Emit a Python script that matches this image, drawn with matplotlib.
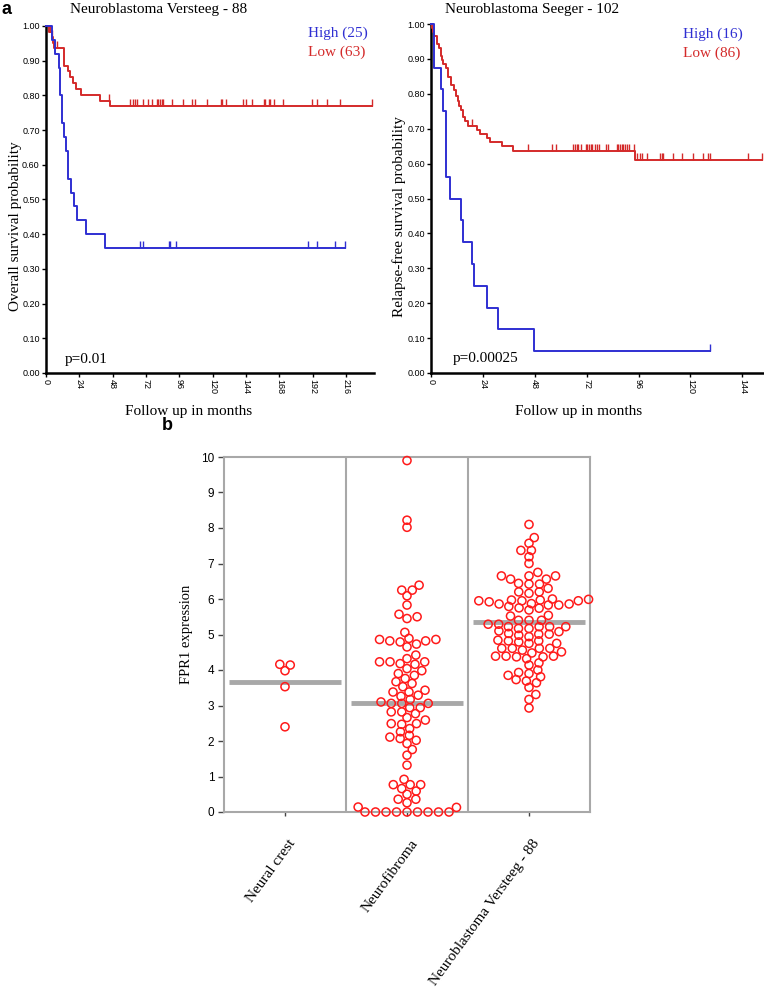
import numpy as np
import matplotlib
matplotlib.use('Agg')
import matplotlib.pyplot as plt
from matplotlib.transforms import ScaledTranslation

# Kaplan-Meier Daten (Monate, Ueberlebensrate nach Ereignis, zensierte Zeiten)
vers_high_t = [4.5, 6.5, 9.4, 10.3, 11.7, 13.2, 14.6, 16.0, 18.2, 20.2, 22.6, 28.8, 42.7]
vers_high_s = [0.96, 0.92, 0.88, 0.80, 0.72, 0.68, 0.64, 0.56, 0.52, 0.48, 0.44, 0.40, 0.36]
vers_high_c = [67.7, 70.0, 88.3, 89.3, 93.4, 188.8, 194.9, 208.0, 215.3]

vers_low_t = [2.4, 4.1, 5.2, 6.0, 13.0, 15.6, 17.3, 19.2, 21.6, 25.2, 38.9, 46.0]
vers_low_s = [0.984, 0.968, 0.952, 0.937, 0.886, 0.870, 0.854, 0.837, 0.818, 0.801, 0.785, 0.769]
vers_low_c = [2.9, 4.5, 8.2, 45.5, 60.5, 62.9, 64.1, 65.3, 69.6, 73.7, 76.1, 79.7, 80.9, 82.1,
              83.3, 84.5, 90.5, 98.4, 104.9, 107.3, 116.1, 126.0, 126.9, 129.6, 142.0, 143.8,
              148.5, 156.5, 157.7, 160.1, 161.3, 163.7, 170.8, 191.3, 194.9, 202.1, 211.7, 234.5]

seeg_high_t = [1.5, 4.5, 5.7, 6.9, 8.8, 13.7, 14.8, 18.8, 19.7, 25.7, 30.8, 47.8]
seeg_high_s = [0.875, 0.8125, 0.75, 0.5625, 0.5, 0.4375, 0.375, 0.3125, 0.25, 0.1875, 0.125, 0.0625]
seeg_high_c = [129.0]

seeg_low_t = [0.3, 1.1, 1.5, 2.6, 2.9, 3.9, 4.4, 4.9, 5.7, 6.9, 7.7, 8.0, 9.1, 10.6, 11.6, 12.3,
              13.1, 13.9, 14.6, 15.7, 17.3, 21.1, 22.7, 25.7, 27.3, 32.7, 38.1, 94.3]
seeg_low_s = [0.988, 0.977, 0.966, 0.955, 0.943, 0.932, 0.909, 0.898, 0.886, 0.874, 0.866, 0.848,
              0.826, 0.812, 0.793, 0.778, 0.766, 0.754, 0.734, 0.721, 0.709, 0.697, 0.685, 0.673,
              0.661, 0.649, 0.637, 0.611]
seeg_low_c = [18.8, 45.0, 55.8, 57.6, 65.8, 66.6, 67.3, 68.1, 69.6, 71.5, 72.3, 73.0, 73.8, 74.6,
              75.8, 76.9, 77.8, 80.9, 82.0, 85.8, 86.6, 87.4, 88.2, 88.9, 89.7, 90.5, 91.7, 93.9,
              95.1, 96.6, 97.7, 99.7, 105.9, 106.7, 107.4, 112.0, 115.9, 121.3, 125.9, 128.2,
              129.0, 146.7, 152.9]

# FPR1 Expression (Panel b)
groups = ['Neural crest', 'Neurofibroma', 'Neuroblastoma Versteeg - 88']
neural_crest = [4.14, 4.16, 3.98, 3.53, 2.40]
neurofibroma = [9.90, 8.22, 8.02, 6.25, 6.39, 6.25, 6.09, 5.83, 5.50, 5.57, 5.45, 5.06,
                4.86, 4.82, 4.89, 4.79, 4.65, 4.73, 4.86, 4.82, 4.23, 4.42, 4.23, 4.32, 4.18,
                4.16, 4.23, 3.98, 3.85, 4.04, 3.90, 3.76, 3.62, 3.67, 3.53, 3.38, 3.38, 3.43,
                3.29, 3.26, 3.17, 3.06, 3.06, 3.06, 3.10, 2.94, 2.94, 2.82, 2.82, 2.77, 2.66,
                2.59, 2.47, 2.49, 2.49, 2.35, 2.26, 2.11, 2.07, 2.16, 2.02, 1.93, 1.76, 1.60,
                1.32, 0.92, 0.77, 0.77, 0.77, 0.66, 0.59, 0.50, 0.36, 0.36, 0.26, 0.14, 0.13,
                0, 0, 0, 0, 0, 0, 0, 0, 0]
neuroblastoma = [8.10, 7.73, 7.57, 7.37, 7.37, 7.19, 7.00, 6.75, 6.65, 6.65, 6.65, 6.56, 6.56,
                 6.44, 6.42, 6.42, 6.30, 6.20, 6.20, 6.16, 5.97, 5.92, 5.87, 5.97, 5.86, 5.95,
                 6.00, 5.95, 5.95, 5.99, 5.86, 5.75, 5.83, 5.74, 5.69, 5.79, 5.83, 5.52, 5.54,
                 5.40, 5.40, 5.40, 5.29, 5.17, 5.29, 5.17, 5.22, 5.22, 5.22, 5.22, 5.08, 5.10,
                 5.03, 5.01, 5.01, 4.98, 4.94, 4.82, 4.82, 4.79, 4.75, 4.75, 4.84, 4.61, 4.61,
                 4.51, 4.56, 4.39, 4.39, 4.39, 4.61, 4.61, 4.37, 4.37, 4.48, 4.32, 4.20, 4.14,
                 4.00, 3.93, 3.90, 3.85, 3.81, 3.73, 3.69, 3.64, 3.51, 3.31, 3.17, 2.93]
group_means = [3.66, 3.07, 5.36]

BLUE = '#2f2fd2'
RED = '#d42a2a'
SERIF = ['Liberation Serif', 'DejaVu Serif']
SANS = ['Liberation Sans', 'DejaVu Sans']
NARROW = ['Liberation Sans Narrow', 'Liberation Sans', 'DejaVu Sans']

W, H = 764, 992
fig = plt.figure(figsize=(W / 100, H / 100), dpi=100)


def px_axes(l, t, r, b):
    return fig.add_axes([l / W, 1 - b / H, (r - l) / W, (b - t) / H])


def km_curve(ax, t, s, cens, color):
    t = np.asarray(t)
    s = np.asarray(s)
    cens = np.asarray(cens)
    end = cens.max()
    tt = np.r_[0, t, end]
    ss = np.r_[1.0, s, s[-1]]
    ax.step(tt, ss, where='post', color=color, lw=1.4, clip_on=False, zorder=3)
    sc = np.r_[1.0, s][np.searchsorted(t, cens, side='right')]
    ax.vlines(cens, sc, sc + 0.02, color=color, lw=1.0, clip_on=False, zorder=3)


def km_axes(ax, xmax, xticks, ylabel, ylab_x, ylab_y):
    ax.set_xlim(0, xmax)
    ax.set_ylim(0, 1)
    for sp in ['top', 'right']:
        ax.spines[sp].set_visible(False)
    for sp in ['left', 'bottom']:
        ax.spines[sp].set_linewidth(1.8)
    yt = np.round(np.arange(0, 1.01, 0.1), 2)
    ax.set_yticks(yt)
    ax.set_yticklabels([f'{v:.2f}' for v in yt], fontsize=6.5, family=NARROW)
    ax.set_xticks(xticks)
    ax.set_xticklabels([str(v) for v in xticks], rotation=270, fontsize=6.5,
                       family=SANS)
    ax.tick_params(axis='both', length=3, width=1, pad=1.5)
    ax.set_ylabel(ylabel, family=SERIF, fontsize=11)
    ax.yaxis.set_label_coords(ylab_x, ylab_y)


# Panel a links
ax1 = px_axes(46, 26, 374, 373)
km_curve(ax1, vers_low_t, vers_low_s, vers_low_c, RED)
km_curve(ax1, vers_high_t, vers_high_s, vers_high_c, BLUE)
km_axes(ax1, 236, list(range(0, 217, 24)), 'Overall survival probability', -0.074, 0.424)

# Panel a rechts
ax2 = px_axes(431, 24, 764, 373)
km_curve(ax2, seeg_low_t, seeg_low_s, seeg_low_c, RED)
km_curve(ax2, seeg_high_t, seeg_high_s, seeg_high_c, BLUE)
km_axes(ax2, 154, list(range(0, 145, 24)), 'Relapse-free survival probability', -0.074, 0.449)

fig.text(2 / W, 1 - 10 / H, 'a', family=SANS, fontsize=13, fontweight='bold', va='center')
fig.text(159 / W, 1 - 9 / H, 'Neuroblastoma Versteeg - 88', family=SERIF, fontsize=11,
         ha='center', va='center')
fig.text(532 / W, 1 - 9 / H, 'Neuroblastoma Seeger - 102', family=SERIF, fontsize=11,
         ha='center', va='center')
fig.text(308 / W, 1 - 33 / H, 'High (25)', family=SERIF, fontsize=11, color=BLUE, va='center')
fig.text(308 / W, 1 - 52 / H, 'Low (63)', family=SERIF, fontsize=11, color=RED, va='center')
fig.text(683 / W, 1 - 34 / H, 'High (16)', family=SERIF, fontsize=11, color=BLUE, va='center')
fig.text(683 / W, 1 - 53 / H, 'Low (86)', family=SERIF, fontsize=11, color=RED, va='center')
fig.text(65 / W, 1 - 360 / H, 'p=0.01', family=SERIF, fontsize=11, va='center')
fig.text(453 / W, 1 - 359 / H, 'p=0.00025', family=SERIF, fontsize=11, va='center')
fig.text(189 / W, 1 - 411 / H, 'Follow up in months', family=SERIF, fontsize=11,
         ha='center', va='center')
fig.text(579 / W, 1 - 411 / H, 'Follow up in months', family=SERIF, fontsize=11,
         ha='center', va='center')

# Panel b
ax3 = px_axes(224, 457, 590, 812)
ax3.set_xlim(-0.5, 2.5)
ax3.set_ylim(0, 10)
GRAY = '#a8a8a8'
for sp in ax3.spines.values():
    sp.set_color(GRAY)
    sp.set_linewidth(1.5)
for xd in [0.5, 1.5]:
    ax3.axvline(xd, color=GRAY, lw=1.5, zorder=1)

ax_w_px = 366.0
ax_h_px = 355.0
px_x = ax_w_px / 3.0
px_y = ax_h_px / 10.0


def swarm_offsets(vals, d, k):
    # Bienenschwarm, vertikal gestreckt damit Kreise sich etwas ueberlappen duerfen
    ys = np.asarray(vals) * px_y * k
    xs = np.zeros(len(ys))
    placed = []
    for i in np.argsort(ys):
        y = ys[i]
        cands = [0.0]
        for (qx, qy) in placed:
            dy = abs(qy - y)
            if dy < d:
                dx = np.sqrt(d * d - dy * dy)
                cands += [qx + dx, qx - dx]
        cands.sort(key=abs)
        for c in cands:
            if all((c - qx) ** 2 + (y - qy) ** 2 >= d * d - 1e-6 for qx, qy in placed):
                xs[i] = c
                placed.append((c, y))
                break
    return xs / px_x


for i, vals in enumerate([neural_crest, neurofibroma, neuroblastoma]):
    ax3.hlines(group_means[i], i - 0.46, i + 0.46, color=GRAY, lw=3.5, zorder=2)
    off = swarm_offsets(vals, 10.5, 1.6)
    ax3.scatter(i + off, vals, s=34, facecolors='none', edgecolors='#ff1a1a',
                linewidths=1.1, zorder=3, clip_on=False)

ax3.set_yticks(range(0, 11))
ax3.set_yticklabels([str(v) for v in range(0, 11)], family=SANS, fontsize=8.5)
ax3.set_xticks([0, 1, 2])
ax3.set_xticklabels(groups, family=SERIF, fontsize=11, rotation=54, ha='right',
                    rotation_mode='anchor')
ax3.tick_params(axis='y', length=4, width=1, color='#444444', pad=3)
ax3.tick_params(axis='x', length=3, width=1, color='#444444', pad=15)
for lab in ax3.get_xticklabels():
    lab.set_transform(lab.get_transform() + ScaledTranslation(0.03, 0, fig.dpi_scale_trans))
ax3.set_ylabel('FPR1 expression', family=SERIF, fontsize=10.5)
ax3.yaxis.set_label_coords(-0.085, 0.5)

fig.text(162 / W, 1 - 425 / H, 'b', family=SANS, fontsize=13, fontweight='bold', va='center')

fig.savefig('out.png', dpi=100)
